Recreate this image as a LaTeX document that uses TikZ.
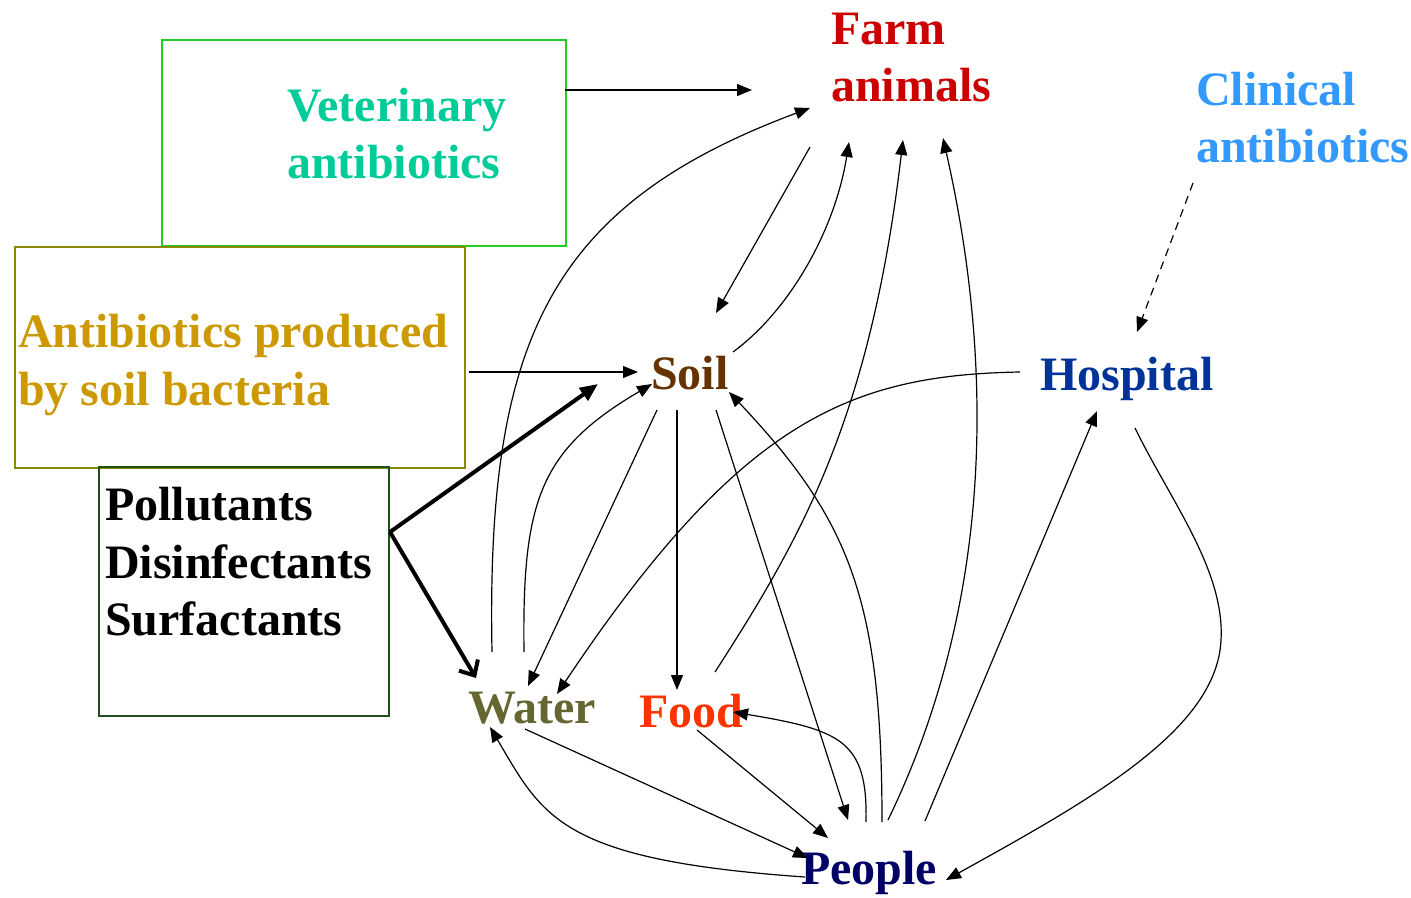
\documentclass[tikz,border=0pt]{standalone}
\usepackage{fontspec}
\setmainfont{Liberation Serif}
\usetikzlibrary{arrows.meta,calc}
\definecolor{farmred}{HTML}{CC0000}
\definecolor{vetgreen}{HTML}{00CC99}
\definecolor{clinblue}{HTML}{3399FF}
\definecolor{prodgold}{HTML}{CC9900}
\definecolor{soilbrown}{HTML}{663300}
\definecolor{waterolive}{HTML}{666633}
\definecolor{foodred}{HTML}{FF3300}
\definecolor{hospblue}{HTML}{003399}
\definecolor{peoplenavy}{HTML}{000066}
\definecolor{vetbord}{HTML}{22CC22}
\definecolor{prodbord}{HTML}{8B8B00}
\definecolor{pollbord}{HTML}{1F4F1F}
\begin{document}
\begin{tikzpicture}[x=1pt,y=-1pt,
  lbl/.style={anchor=base west, inner sep=0pt, font=\fontsize{48}{58}\selectfont\bfseries},
  conn/.style={line width=1.2pt, -{Triangle[length=15pt,width=12pt]}},
  thickconn/.style={line width=4pt},
  boxstyle/.style={draw, line width=2pt, anchor=north west, inner sep=0pt}]
\useasboundingbox (0,0) rectangle (1411,897);

% boxes
\node[boxstyle, draw=vetbord, minimum width=404pt, minimum height=206pt] (vetbox) at (161,39) {};
\node[boxstyle, draw=prodbord, minimum width=450pt, minimum height=221pt] (prodbox) at (14,246) {};
\node[boxstyle, draw=pollbord, minimum width=290pt, minimum height=249pt] (pollbox) at (98,466) {};

% labels
\node[lbl, text=vetgreen] (vet1) at (287,121) {Veterinary};
\node[lbl, text=vetgreen] (vet2) at (287,178) {antibiotics};
\node[lbl, text=prodgold] (prod1) at (18,347) {Antibiotics produced};
\node[lbl, text=prodgold] (prod2) at (18,405) {by soil bacteria};
\node[lbl, text=black] (poll1) at (105,520) {Pollutants};
\node[lbl, text=black] (poll2) at (105,578) {Disinfectants};
\node[lbl, text=black] (poll3) at (105,635) {Surfactants};
\node[lbl, text=farmred] (farm1) at (831,44) {Farm};
\node[lbl, text=farmred] (farm2) at (831,101) {animals};
\node[lbl, text=clinblue] (clin1) at (1196,105) {Clinical};
\node[lbl, text=clinblue] (clin2) at (1196,162) {antibiotics};
\node[lbl, text=soilbrown] (soil) at (651,389) {Soil};
\node[lbl, text=waterolive] (water) at (468,723) {Water};
\node[lbl, text=foodred] (food) at (639,727) {Food};
\node[lbl, text=hospblue] (hosp) at (1040,390) {Hospital};
\node[lbl, text=peoplenavy] (people) at (801,884) {People};

% straight inputs from boxes
\draw[conn] ($(vetbox.north east)+(-2,51)$) -- ($(farm2.base west)+(-79,-11)$);
\draw[conn] ($(prodbox.north east)+(3,126)$) -- ($(soil.base west)+(-13,-17)$);
\draw[thickconn, -{Triangle[length=18pt,width=15pt]}] ($(pollbox.north east)+(0,66)$) -- ($(soil.base west)+(-53,-5)$);
\draw[thickconn, -{Straight Barb[length=12pt,width=22pt]}] ($(pollbox.north east)+(0,66)$) -- ($(water.base west)+(8,-45)$);

% farm animals links
\draw[conn] ($(farm2.base west)+(-21,46)$) -- ($(soil.base west)+(65,-76)$);
\draw[conn] ($(soil.base west)+(82,-37)$) .. controls (790,310) and (835,230) .. ($(farm2.base west)+(18,41)$);
\draw[conn] ($(food.base west)+(76,-55)$) .. controls (800,540) and (870,420) .. ($(farm2.base west)+(72,39)$);
\draw[conn] ($(people.base west)+(87,-64)$) .. controls (985,620) and (1000,390) .. ($(farm2.base west)+(112,37)$);
\draw[conn] ($(water.base west)+(24,-71)$) .. controls (486,340) and (550,205) .. ($(farm2.base west)+(-21,7)$);

% soil links
\draw[conn] ($(water.base west)+(56,-71)$) .. controls (522,500) and (540,450) .. ($(soil.base west)+(1,-5)$);
\draw[conn] ($(soil.base west)+(6,21)$) -- ($(water.base west)+(60,-37)$);
\draw[conn] ($(soil.base west)+(26,21)$) -- ($(food.base west)+(38,-37)$);
\draw[conn] ($(soil.base west)+(65,21)$) -- ($(people.base west)+(47,-64)$);
\draw[conn] ($(people.base west)+(81,-62)$) .. controls (882,600) and (850,520) .. ($(soil.base west)+(78,3)$);

% hospital links
\draw[conn] ($(hosp.base west)+(-20,-18)$) .. controls (850,375) and (740,420) .. ($(water.base west)+(89,-29)$);
\draw[conn] ($(people.base west)+(124,-63)$) -- ($(hosp.base west)+(57,21)$);
\draw[conn] ($(hosp.base west)+(95,38)$) .. controls (1170,500) and (1225,570) .. (1221,640) .. controls (1217,730) and (1090,800) .. ($(people.base west)+(145,-4)$);
\draw[conn, dash pattern=on 8pt off 6pt] ($(clin2.base west)+(-3,21)$) -- ($(hosp.base west)+(97,-58)$);

% people, food, water links
\draw[conn] ($(people.base west)+(65,-62)$) .. controls (868,740) and (840,730) .. ($(food.base west)+(94,-15)$);
\draw[conn] ($(food.base west)+(58,3)$) -- ($(people.base west)+(27,-46)$);
\draw[conn] ($(water.base west)+(57,6)$) -- ($(people.base west)+(7,-26)$);
\draw[conn] ($(people.base west)+(4,-7)$) .. controls (560,860) and (543,817) .. ($(water.base west)+(22,4)$);
\end{tikzpicture}
\end{document}
